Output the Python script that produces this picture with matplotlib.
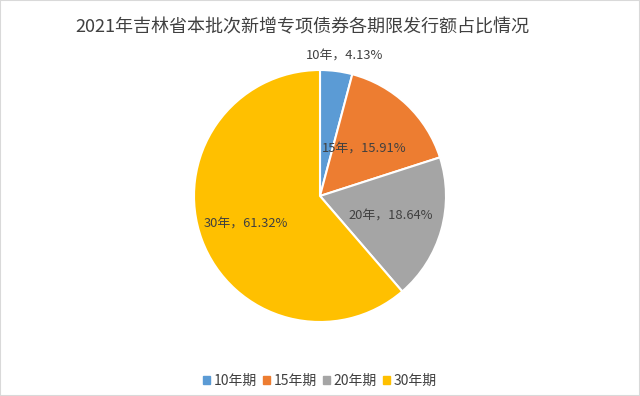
import matplotlib.pyplot as plt
import matplotlib.patches as mpatches
import numpy as np

plt.rcParams['font.family'] = ['Noto Sans CJK SC', 'DejaVu Sans']

# data
terms = ['10年', '15年', '20年', '30年']
legend_labels = ['10年期', '15年期', '20年期', '30年期']
shares = [4.13, 15.91, 18.64, 61.32]
colors = ['#5B9BD5', '#ED7D31', '#A5A5A5', '#FFC000']
label_dist = [1.12, 0.51, 0.58, 0.63]

fig = plt.figure(figsize=(6.4, 3.96), dpi=100)
fig.patches.append(mpatches.Rectangle((0, 0), 1, 1, transform=fig.transFigure,
                                      fill=False, edgecolor='#d9d9d9', lw=1.5))

ax = fig.add_axes([194 / 640, 74 / 396, 252 / 640, 252 / 396])
wedges, _ = ax.pie(shares, colors=colors, startangle=90, counterclock=False,
                   radius=1, wedgeprops=dict(edgecolor='white', linewidth=1.5))
ax.set_xlim(-1, 1)
ax.set_ylim(-1, 1)
ax.set_aspect('equal')
ax.axis('off')

for i, (w, t, s, d) in enumerate(zip(wedges, terms, shares, label_dist)):
    ang = np.deg2rad((w.theta1 + w.theta2) / 2)
    x, y = d * np.cos(ang), d * np.sin(ang)
    if i == 0:
        x += 0.05  # outside label sits a bit right of the slice middle
    ax.text(x, y, f'{t}，{s:.2f}%', ha='center', va='center', fontsize=9.3,
            color='#404040', clip_on=False)

fig.text(0.472, 0.93, '2021年吉林省本批次新增专项债券各期限发行额占比情况',
         ha='center', va='center', fontsize=13, color='#404040')

handles = [mpatches.Patch(color=c) for c in colors]
fig.legend(handles, legend_labels, loc='center', bbox_to_anchor=(0.5, 0.038),
           ncol=4, frameon=False, fontsize=10, handlelength=0.5, handleheight=0.5,
           handletextpad=0.25, columnspacing=0.45, labelcolor='#404040')

fig.savefig('out.png', dpi=100)
